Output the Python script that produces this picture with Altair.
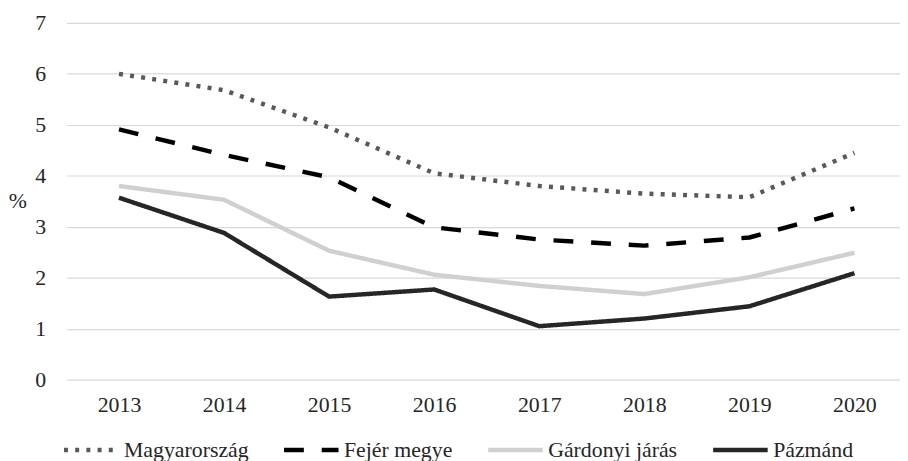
import altair as alt
import pandas as pd

years = [2013, 2014, 2015, 2016, 2017, 2018, 2019, 2020]
series_names = ["Magyarország", "Fejér megye", "Gárdonyi járás", "Pázmánd"]
magyarorszag = [6.0, 5.68, 4.95, 4.05, 3.80, 3.65, 3.58, 4.45]
fejer = [4.91, 4.41, 3.97, 2.99, 2.75, 2.63, 2.79, 3.36]
gardonyi = [3.80, 3.53, 2.53, 2.06, 1.84, 1.68, 2.01, 2.49]
pazmand = [3.57, 2.88, 1.63, 1.77, 1.05, 1.20, 1.44, 2.09]

colors = ["#595959", "#000000", "#d0d0d0", "#262626"]
dashes = [[4, 7.3], [20, 18], [1, 0], [1, 0]]
y_ticks = [0, 1, 2, 3, 4, 5, 6, 7]

rows = []
for name, vals in zip(series_names, [magyarorszag, fejer, gardonyi, pazmand]):
    for yr, v in zip(years, vals):
        rows.append({"Év": yr, "Érték": v, "Sorozat": name})
df = pd.DataFrame(rows)

FONT = "Liberation Serif"

legend = alt.Legend(
    title=None,
    orient="none",
    direction="horizontal",
    columns=4,
    legendX=-5,
    legendY=401,
    symbolType="stroke",
    symbolSize=3025,
    symbolStrokeWidth=4.5,
    labelFont=FONT,
    labelFontSize=22,
    labelColor="#262626",
    labelOffset=3,
    columnPadding=26,
)

chart = (
    alt.Chart(df)
    .mark_line(strokeWidth=4.5, strokeCap="butt", strokeJoin="round")
    .encode(
        x=alt.X(
            "Év:Q",
            scale=alt.Scale(domain=[2012.5, 2020.434], nice=False, zero=False),
            axis=alt.Axis(
                values=years,
                format="d",
                title=None,
                grid=False,
                ticks=False,
                domain=False,
                labelFont=FONT,
                labelFontSize=22,
                labelColor="#262626",
                labelPadding=15,
            ),
        ),
        y=alt.Y(
            "Érték:Q",
            scale=alt.Scale(domain=[0, 7], nice=False),
            axis=alt.Axis(
                values=y_ticks,
                title="%",
                titleAngle=0,
                titleX=-49.5,
                titleY=179,
                titleAlign="center",
                titleBaseline="middle",
                titleFont=FONT,
                titleFontSize=22,
                titleFontWeight="normal",
                titleColor="#262626",
                grid=True,
                gridColor="#d9d9d9",
                gridWidth=1.2,
                ticks=False,
                domain=False,
                labelFont=FONT,
                labelFontSize=22,
                labelColor="#262626",
                labelPadding=21,
            ),
        ),
        color=alt.Color(
            "Sorozat:N",
            scale=alt.Scale(domain=series_names, range=colors),
            legend=legend,
        ),
        strokeDash=alt.StrokeDash(
            "Sorozat:N",
            scale=alt.Scale(domain=series_names, range=dashes),
            legend=legend,
        ),
        order=alt.Order("Év:Q"),
    )
    .properties(
        width=841,
        height=360,
        autosize=alt.AutoSizeParams(type="none"),
        padding={"left": 59, "top": 13, "right": 0, "bottom": 80},
    )
    .configure_view(stroke=None)
)

chart.save("out.html", embed_options={"renderer": "svg", "actions": False})
